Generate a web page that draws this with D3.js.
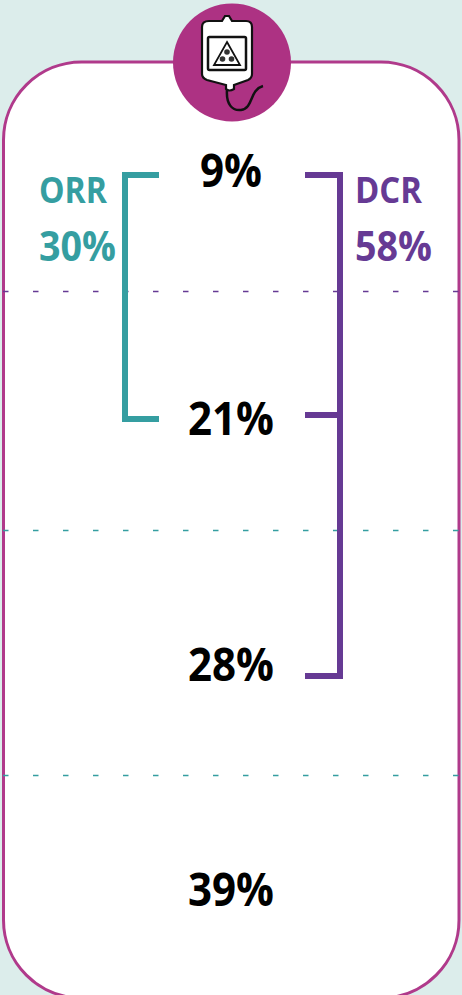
<!DOCTYPE html>
<html><head><meta charset="utf-8">
<script src="https://cdn.jsdelivr.net/npm/d3@7/dist/d3.min.js"></script>
<style>html,body{margin:0;padding:0;background:#dcedeb;overflow:hidden}svg{display:block}text{font-family:"Open Sans",sans-serif;font-weight:700}</style>
</head><body><svg id="c" width="462" height="995"></svg>
<script>
const tiers = ["A","B","C","D"];
const tierValues = [9,21,28,39];
const groupLabels = ["ORR","DCR"];
const groupValues = [30,58];
const orrTiers = ["A","B"];
const dcrTiers = ["A","B","C"];
const separators = [
  {after:"A", color:"#663a94"},
  {after:"B", color:"#359ea1"},
  {after:"C", color:"#359ea1"}
];
const svg=d3.select("#c");
const y=d3.scaleOrdinal().domain(tiers).range([170,418,664,889]);
const sepY=d3.scaleOrdinal().domain(tiers).range([291,530,775,995]);
const pink="#b03a8b", teal="#359ea1", purple="#663a94";

svg.append("rect").attr("x",3.5).attr("y",62).attr("width",455.5).attr("height",936).attr("rx",78).attr("ry",78)
  .attr("fill","#fff").attr("stroke",pink).attr("stroke-width",3);

svg.selectAll("line.sep").data(separators).join("line").attr("class","sep")
  .attr("x1",3).attr("x2",459).attr("y1",d=>sepY(d.after)+0.5).attr("y2",d=>sepY(d.after)+0.5)
  .attr("stroke",d=>d.color).attr("stroke-width",1.5).attr("stroke-dasharray","5.5 24.5");

const bracket=(sel,xSpine,xEnd,color,list,offs)=>{
  const ys=list.map((t,i)=>y(t)+offs[i]);
  sel.append("path").attr("fill","none").attr("stroke",color).attr("stroke-width",6)
    .attr("d",`M${xEnd},${ys[0]}H${xSpine}V${ys[ys.length-1]}H${xEnd}`);
  ys.slice(1,-1).forEach(v=>sel.append("line").attr("x1",xSpine).attr("x2",xEnd).attr("y1",v).attr("y2",v).attr("stroke",color).attr("stroke-width",6));
};
bracket(svg,125,159,teal,orrTiers,[5,1]);
bracket(svg,340,305,purple,dcrTiers,[5,-3,12]);

const bigWidth=d=>d==="A"?62:86;
svg.selectAll("text.val").data(tiers).join("text").attr("class","val")
  .attr("x",231).attr("y",d=>y(d)).attr("dy","0.36em").attr("text-anchor","middle")
  .attr("font-size",47).attr("fill","#000")
  .attr("textLength",bigWidth).attr("lengthAdjust","spacingAndGlyphs")
  .text((d,i)=>tierValues[i]+"%");

const gx=[39,355], gc=[teal,purple], labelW=[68,67];
groupLabels.forEach((g,i)=>{
  svg.append("text").attr("x",gx[i]).attr("y",203).attr("font-size",35).attr("fill",gc[i])
    .attr("textLength",labelW[i]).attr("lengthAdjust","spacingAndGlyphs").text(g);
  svg.append("text").attr("x",gx[i]).attr("y",261).attr("font-size",42).attr("fill",gc[i])
    .attr("textLength",77).attr("lengthAdjust","spacingAndGlyphs").text(groupValues[i]+"%");
});

const ic=svg.append("g");
ic.append("circle").attr("cx",232).attr("cy",62.5).attr("r",59).attr("fill","#ad3283");
ic.append("path").attr("fill","#fff").attr("stroke","#111").attr("stroke-width",2.2)
  .attr("d","M209,21H222L225,16H229L232,21H246Q252,21 252,27V74Q252,78 248,80L234,85V89Q229,92 226,89V85L207,80Q202,78 202,74V27Q202,21 209,21Z");
ic.append("path").attr("fill","none").attr("stroke","#111").attr("stroke-width",2.5)
  .attr("d","M227,90C226,104 232,111 241,110C254,108 249,90 263,86");
ic.append("rect").attr("x",208).attr("y",37).attr("width",38).attr("height",33).attr("rx",1.5).attr("fill","#fff").attr("stroke","#111").attr("stroke-width",2.5);
ic.append("path").attr("d","M227,42L240,65H214Z").attr("fill","#fff").attr("stroke","#111").attr("stroke-width",1.8);
ic.append("circle").attr("cx",227).attr("cy",52).attr("r",2.8).attr("fill","#333");
ic.append("circle").attr("cx",222.5).attr("cy",59).attr("r",2.8).attr("fill","#333");
ic.append("circle").attr("cx",231.5).attr("cy",59).attr("r",2.8).attr("fill","#333");
ic.append("circle").attr("cx",227).attr("cy",56.5).attr("r",1.2).attr("fill","#fff");
</script></body></html>
